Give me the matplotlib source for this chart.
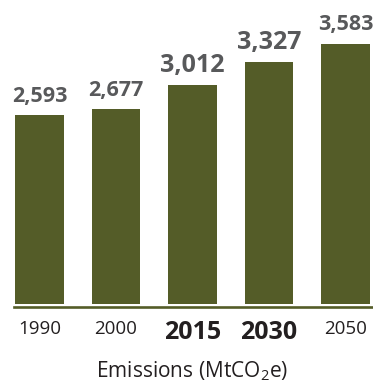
import numpy as np
import matplotlib
matplotlib.use("Agg")
import matplotlib.pyplot as plt

# data
years = ["1990", "2000", "2015", "2030", "2050"]
emissions = [2593, 2677, 3012, 3327, 3583]
highlight = [False, False, True, True, False]

plt.rcParams['font.family'] = ['Open Sans', 'DejaVu Sans']
plt.rcParams['mathtext.fontset'] = 'custom'
plt.rcParams['mathtext.rm'] = 'Open Sans'

olive = "#545C28"
grey = "#58595B"
ink = "#231F20"

W, H = 373, 383
fig = plt.figure(figsize=(W / 100, H / 100), dpi=100)
# axes: bottom at 310px from top, top at figure top
ax = fig.add_axes([0, (H - 310) / H, 1, 310 / H])

x = np.arange(len(years))
ax.bar(x, emissions, width=0.64, color=olive, zorder=2)

ppu = 0.0727  # px per MtCO2e
ax.set_ylim(-6 / ppu, 304 / ppu)
ax.set_xlim(-39.5 / 76.5, -39.5 / 76.5 + W / 76.5)

# baseline
ax.axhline(-40, xmin=14 / W, xmax=1, color=olive, lw=1.9, zorder=3)

# value labels
for xi, v, hl in zip(x, emissions, highlight):
    ax.annotate(f"{v:,}", (xi, v), xytext=(0, 9.4), textcoords="offset points",
                ha="center", va="baseline", color=grey, fontweight="bold",
                fontsize=18 if hl else 15.5)

ax.set_xticks(x)
ax.set_xticklabels(years)
ax.tick_params(axis="x", length=0, pad=7.5, colors=ink)
for lab, hl in zip(ax.get_xticklabels(), highlight):
    if hl:
        lab.set_fontweight("bold")
        lab.set_fontsize(18)
    else:
        lab.set_fontsize(13.5)
ax.set_yticks([])
for s in ax.spines.values():
    s.set_visible(False)

fig.text(192 / W, (H - 377) / H, "Emissions (MtCO$_{2}$e)", ha="center",
         va="baseline", fontsize=15, color=ink)

fig.savefig("out.png", dpi=100)
